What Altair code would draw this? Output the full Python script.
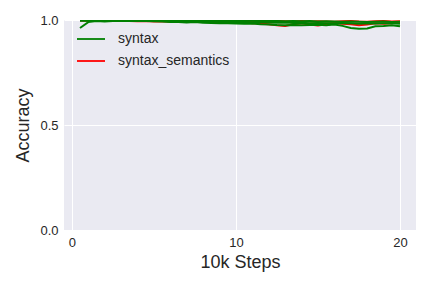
import altair as alt
import pandas as pd

steps = [0.5 * i for i in range(1, 41)]

syntax_run1 = [0.962, 0.990, 0.995, 0.993, 0.995, 0.996, 0.995, 0.996, 0.995, 0.994,
               0.993, 0.990, 0.990, 0.988, 0.990, 0.987, 0.986, 0.985, 0.984, 0.983,
               0.982, 0.983, 0.980, 0.978, 0.976, 0.975, 0.976, 0.975, 0.976, 0.977,
               0.975, 0.978, 0.972, 0.962, 0.958, 0.960, 0.970, 0.972, 0.975, 0.970]
syntax_run2 = [0.996, 0.997, 0.997, 0.996, 0.997, 0.997, 0.996, 0.997, 0.996, 0.995,
               0.995, 0.994, 0.995, 0.993, 0.993, 0.992, 0.993, 0.991, 0.990, 0.991,
               0.990, 0.989, 0.990, 0.988, 0.987, 0.988, 0.986, 0.987, 0.985, 0.986,
               0.985, 0.984, 0.986, 0.984, 0.982, 0.984, 0.983, 0.985, 0.984, 0.982]
syntax_run3 = [0.999, 1.000, 0.999, 1.000, 0.999, 0.999, 1.000, 0.999, 0.999, 0.998,
               0.999, 0.998, 0.999, 0.998, 0.997, 0.998, 0.997, 0.998, 0.997, 0.996,
               0.997, 0.996, 0.995, 0.996, 0.995, 0.994, 0.995, 0.994, 0.995, 0.993,
               0.994, 0.993, 0.992, 0.993, 0.992, 0.991, 0.992, 0.993, 0.991, 0.992]
sem_run1 = [0.998, 0.996, 0.995, 0.996, 0.995, 0.996, 0.995, 0.994, 0.995, 0.993,
            0.994, 0.992, 0.993, 0.994, 0.992, 0.993, 0.991, 0.990, 0.992, 0.988,
            0.990, 0.985, 0.983, 0.980, 0.975, 0.972, 0.980, 0.985, 0.978, 0.974,
            0.980, 0.985, 0.982, 0.980, 0.975, 0.978, 0.985, 0.982, 0.985, 0.988]
sem_run2 = [1.000, 0.998, 0.999, 0.997, 0.999, 0.998, 0.997, 0.999, 0.998, 0.996,
            0.998, 0.997, 0.998, 0.996, 0.998, 0.997, 0.995, 0.997, 0.996, 0.997,
            0.995, 0.994, 0.996, 0.994, 0.995, 0.994, 0.993, 0.995, 0.993, 0.994,
            0.993, 0.992, 0.994, 0.995, 0.993, 0.992, 0.994, 0.995, 0.993, 0.994]

runs = [
    ("syntax_semantics", "d", sem_run1),
    ("syntax_semantics", "e", sem_run2),
    ("syntax", "a", syntax_run1),
    ("syntax", "b", syntax_run2),
    ("syntax", "c", syntax_run3),
]
rows = []
for model, run, vals in runs:
    for s, v in zip(steps, vals):
        rows.append({"step": s, "acc": v, "model": model, "run": run})
df = pd.DataFrame(rows)

font = "Liberation Sans"
chart = alt.Chart(df).mark_line(strokeWidth=2, clip=True).encode(
    x=alt.X("step:Q", scale=alt.Scale(domain=[-0.475, 20.975], nice=False, zero=False),
            axis=alt.Axis(title="10k Steps", values=[0, 10, 20], format="d")),
    y=alt.Y("acc:Q", scale=alt.Scale(domain=[0, 1], nice=False),
            axis=alt.Axis(title="Accuracy", values=[0, 0.5, 1.0], format=".1f")),
    color=alt.Color("model:N",
                    scale=alt.Scale(domain=["syntax", "syntax_semantics"], range=["green", "red"]),
                    legend=alt.Legend(title=None, orient="none", legendX=12, legendY=4,
                                      symbolType="stroke", symbolSize=784, symbolStrokeWidth=1.8,
                                      labelFontSize=14, labelFont=font, labelColor="#262626",
                                      labelOffset=12, rowPadding=-7)),
    detail="run:N",
).properties(
    width=352, height=210,
    autosize=alt.AutoSizeParams(type="none"),
    padding={"left": 56, "top": 12, "right": 8, "bottom": 50},
).configure_view(
    fill="#EAEAF2", stroke=None
).configure_axis(
    domain=False, ticks=False, grid=True, gridColor="white", gridWidth=1,
    labelFont=font, labelFontSize=13, labelColor="#262626", labelPadding=6,
    titleFont=font, titleFontSize=18, titleFontWeight="normal", titleColor="#262626",
).configure_axisY(titlePadding=7).configure_axisX(titlePadding=4)

chart.save("out.html", embed_options={"renderer": "svg", "actions": False})
